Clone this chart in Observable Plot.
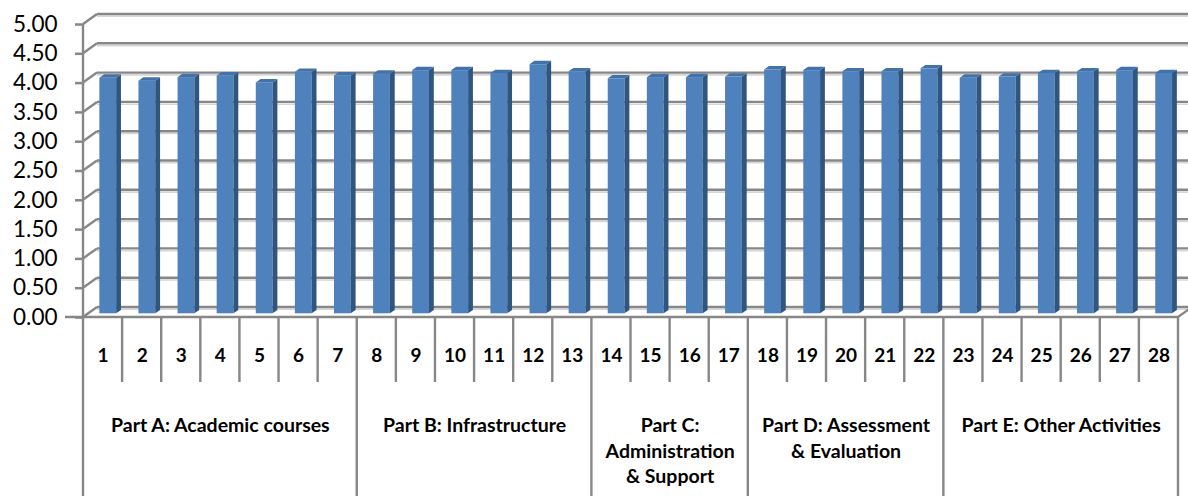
<!DOCTYPE html>
<html>
<head>
<meta charset="utf-8">
<script src="https://cdn.jsdelivr.net/npm/d3@7"></script>
<script src="https://cdn.jsdelivr.net/npm/@observablehq/plot@0.6"></script>
<style>
  body { margin: 0; background: #ffffff; }
  #chart svg { display: block; }
  #chart g[aria-label^="y-axis"] line,
  #chart g[aria-label="y-axis tick"] path { stroke: #878787; stroke-width: 2.5px; }
  #chart g[aria-label^="y-axis"] text { fill: #000; }
</style>
</head>
<body>
<div id="chart"></div>
<script>
// ---- data ----
const items = ["1","2","3","4","5","6","7","8","9","10","11","12","13","14",
               "15","16","17","18","19","20","21","22","23","24","25","26","27","28"];
const scores = [4.02, 3.97, 4.03, 4.06, 3.94, 4.12, 4.06, 4.09, 4.15, 4.15,
                4.10, 4.25, 4.13, 4.01, 4.03, 4.03, 4.04, 4.16, 4.15, 4.13,
                4.13, 4.18, 4.02, 4.04, 4.10, 4.13, 4.15, 4.10];
const groupNames = ["Part A: Academic courses", "Part B: Infrastructure",
                    "Part C:\nAdministration\n& Support", "Part D: Assessment\n& Evaluation",
                    "Part E: Other Activities"];
const groupSizes = [7, 6, 4, 5, 6];
const yTicks = [0, 0.5, 1, 1.5, 2, 2.5, 3, 3.5, 4, 4.5, 5];

// ---- tables built from the arrays ----
const bars = items.map((label, i) => ({label, start: i, end: i + 1, mid: i + 0.5, value: scores[i]}));
let acc = 0;
const groups = groupNames.map((name, k) => {
  const g = {name, start: acc, end: acc + groupSizes[k], mid: acc + groupSizes[k] / 2};
  acc += groupSizes[k];
  return g;
});
const groupEdges = [0, ...groups.map(g => g.end)];

// ---- styling / 3D geometry ----
const LINE = "#878787";
const DX = 14, DY = -10;       // back wall offset
const BDX = 5.2, BDY = -3.7;   // bar front face offset
const SDX = 4.8, SDY = -3.4;   // bar depth
const INSET = 11.15;           // bar inset within band
const FRONT = "#4f81bd", SIDE = "#30557f", TOP = "#4272aa";

function backWall(index, scales, values, dims) {
  const x = scales.x, y = scales.y;
  const g = d3.create("svg:g");
  const x0 = x(0);
  for (const t of yTicks) {
    const yy = y(t);
    g.append("line").attr("x1", x0 + DX).attr("x2", dims.width)
      .attr("y1", yy + DY + 2.3).attr("y2", yy + DY + 2.3)
      .attr("stroke", "#d6d6d6").attr("stroke-width", 1.6);
    g.append("line").attr("x1", x0 + DX).attr("x2", dims.width)
      .attr("y1", yy + DY).attr("y2", yy + DY)
      .attr("stroke", LINE).attr("stroke-width", 2.4);
    g.append("line").attr("x1", x0).attr("x2", x0 + DX)
      .attr("y1", yy).attr("y2", yy + DY)
      .attr("stroke", LINE).attr("stroke-width", 2.4);
  }
  return g.node();
}

function barFaces(index, scales, values, dims) {
  const x = scales.x, y = scales.y;
  const g = d3.create("svg:g");
  for (const b of bars) {
    const xl = x(b.start) + INSET + BDX, xr = x(b.end) - INSET + BDX;
    const yt = y(b.value) + BDY, yb = y(0) + BDY;
    g.append("polygon")
      .attr("points", [[xr, yt], [xr + SDX, yt + SDY], [xr + SDX, yb + SDY], [xr, yb]].map(p => p.join(",")).join(" "))
      .attr("fill", SIDE);
    g.append("polygon")
      .attr("points", [[xl, yt], [xr, yt], [xr + SDX, yt + SDY], [xl + SDX, yt + SDY]].map(p => p.join(",")).join(" "))
      .attr("fill", TOP);
  }
  return g.node();
}

function frontFrame(index, scales, values, dims) {
  const x = scales.x, y = scales.y;
  const g = d3.create("svg:g").attr("stroke", LINE).attr("stroke-width", 2.4);
  const x0 = x(0), xN = x(28), y0 = y(0);
  g.append("line").attr("x1", x0).attr("x2", x0).attr("y1", y(5)).attr("y2", y0);
  g.append("line").attr("x1", x0 - 18).attr("x2", xN).attr("y1", y0).attr("y2", y0);
  g.append("line").attr("x1", xN).attr("x2", xN + DX).attr("y1", y0).attr("y2", y0 + DY);
  for (let b = 0; b <= items.length; b++) {
    const major = groupEdges.includes(b);
    g.append("line").attr("x1", x(b)).attr("x2", x(b))
      .attr("y1", y0).attr("y2", major ? dims.height : y0 + 65);
  }
  return g.node();
}

const chart = Plot.plot({
  width: 1188,
  height: 496,
  marginLeft: 83,
  marginRight: 10,
  marginTop: 24,
  marginBottom: 179,
  style: {fontFamily: "Lato, 'Open Sans', sans-serif", fontSize: "22.5px", background: "#fff", color: "#000"},
  x: {domain: [0, items.length], axis: null},
  y: {domain: [0, 5], ticks: yTicks, tickFormat: d3.format(".2f"), tickSize: 8, tickPadding: 18, label: null},
  marks: [
    backWall,
    Plot.rectY(bars, {x1: "start", x2: "end", y1: 0, y2: "value", insetLeft: INSET, insetRight: INSET,
                      dx: BDX, dy: BDY, fill: FRONT}),
    barFaces,
    frontFrame,
    Plot.text(bars, {x: "mid", y: 0, text: "label", dy: 38, fontWeight: "bold", fontSize: 19, fill: "#000"}),
    Plot.text(groups, {x: "mid", y: 0, text: "name", dy: 96, lineAnchor: "top", lineHeight: 1.32,
                       fontWeight: "bold", fontSize: 19.5, fill: "#000"})
  ]
});
document.getElementById("chart").appendChild(chart);
</script>
</body>
</html>
